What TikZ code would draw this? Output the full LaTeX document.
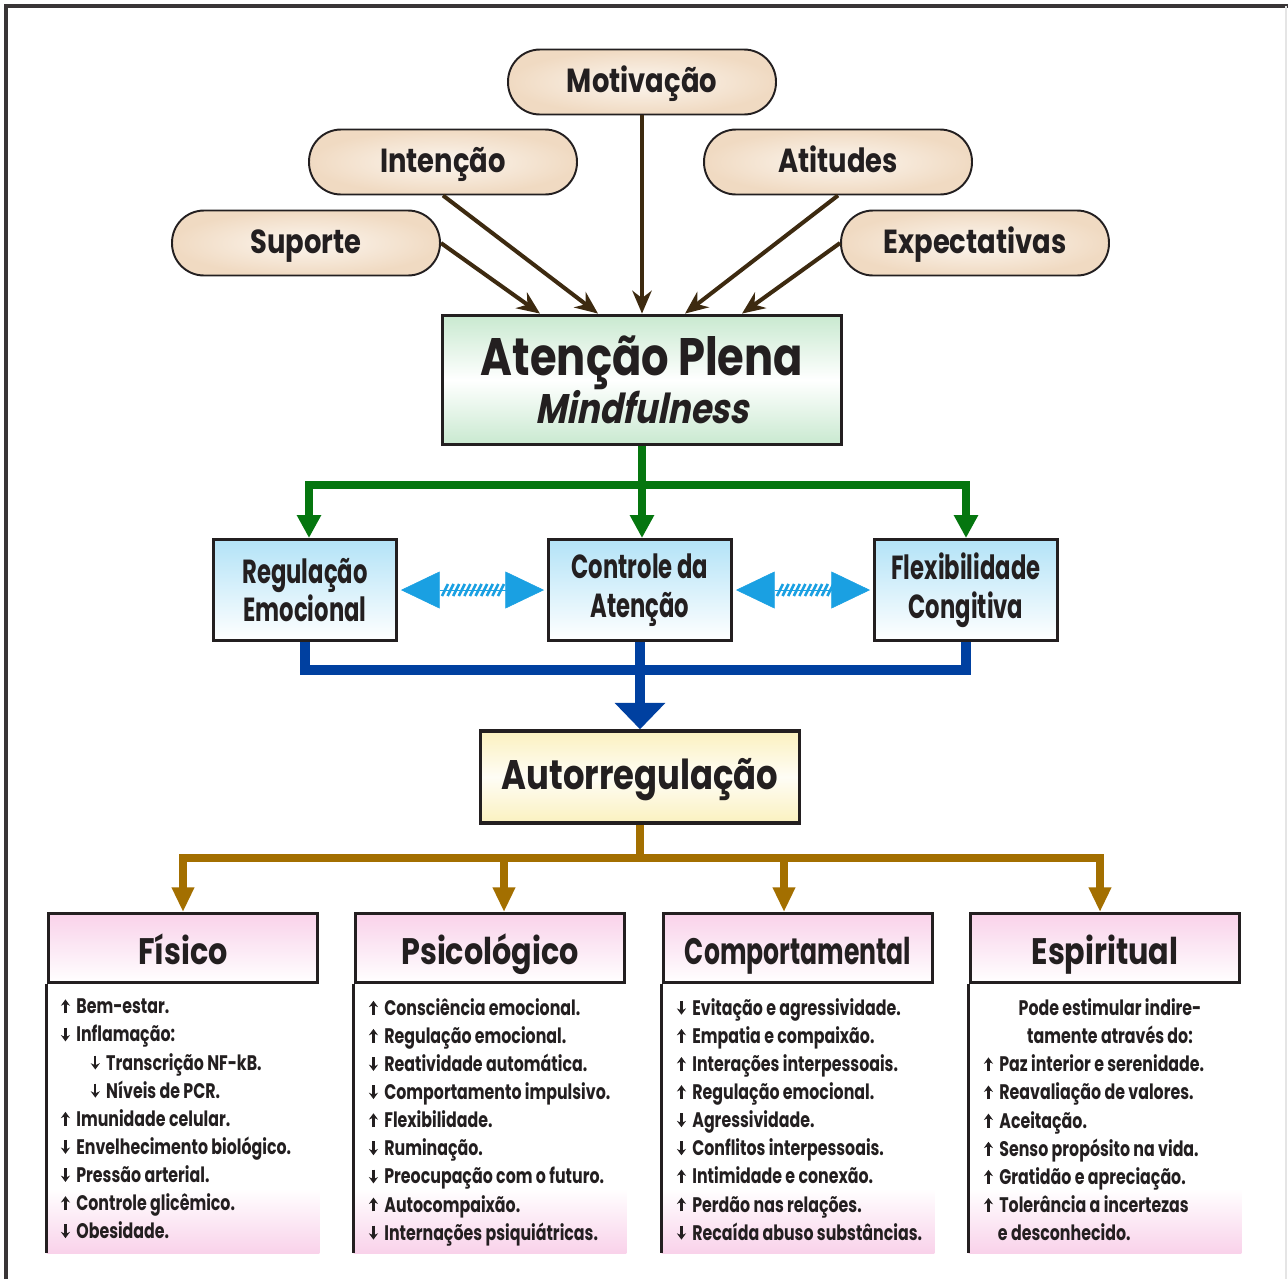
\documentclass[tikz,border=0pt]{standalone}
\usepackage{fontspec}
\setmainfont{Poppins}[FakeStretch=0.82]
\newfontfamily\narrowfont{Poppins}[FakeStretch=0.68]
\newfontfamily\listfont{Poppins}[FakeStretch=0.75]
\newfontfamily\slantfont{Poppins}[FakeStretch=0.82,FakeSlant=0.2]
\usetikzlibrary{arrows.meta,calc,positioning}
\definecolor{ink}{HTML}{231F20}
\definecolor{beige}{HTML}{F0DAC2}
\definecolor{beigel}{HTML}{FCF6EF}
\definecolor{mintg}{HTML}{C9E9D0}
\definecolor{skyl}{HTML}{B3E3F7}
\definecolor{creme}{HTML}{FBF1BF}
\definecolor{rosa}{HTML}{F9D2EA}
\definecolor{brownarr}{HTML}{3D2A10}
\definecolor{greenarr}{HTML}{05760F}
\definecolor{bluearr}{HTML}{0040A0}
\definecolor{goldarr}{HTML}{A36F00}
\definecolor{skyarr}{HTML}{1AA0E2}
\newcommand\up{\tikz[baseline=0pt]\draw[ink,line width=1.2pt,-{Stealth[length=3.6pt,width=5.2pt]}](0pt,0.3pt)--(0pt,8.2pt);\hspace{3.6pt}}
\newcommand\dn{\tikz[baseline=0pt]\draw[ink,line width=1.2pt,-{Stealth[length=3.6pt,width=5.2pt]}](0pt,8.2pt)--(0pt,0.3pt);\hspace{3.6pt}}
\begin{document}
\begin{tikzpicture}[x=0.02cm,y=-0.02cm,
    pill/.style={draw=ink,line width=1.1pt,rounded corners=0.64cm,minimum width=5.36cm,minimum height=1.3cm,inner color=beigel,outer color=beige,text=ink,text height=12.4pt,text depth=0pt,font=\bfseries\fontsize{19}{19}\selectfont},
    mainbox/.style={draw=ink,line width=2.2pt,minimum width=7.98cm,minimum height=2.58cm,top color=mintg,bottom color=mintg,middle color=white,align=center,text=ink,font=\bfseries\fontsize{30}{27}\selectfont},
    midbox/.style={draw=ink,line width=1.7pt,minimum width=3.66cm,minimum height=2.02cm,top color=skyl,bottom color=white,align=center,text=ink,font=\narrowfont\bfseries\fontsize{19}{22}\selectfont},
    autobox/.style={draw=ink,line width=2pt,minimum width=6.38cm,minimum height=1.84cm,top color=creme,bottom color=creme,middle color=white!85!creme,text=ink,text height=14.7pt,text depth=0pt,font=\bfseries\fontsize{23.5}{23.5}\selectfont},
    headbox/.style={draw=ink,line width=1.7pt,minimum width=5.4cm,minimum height=1.38cm,top color=rosa,bottom color=white,text=ink,text height=18.5pt,text depth=0pt,font=\bfseries\fontsize{21}{21}\selectfont},
    listtxt/.style={align=left,anchor=north west,inner sep=0pt,text=ink,font=\listfont\bfseries\fontsize{12}{16}\selectfont},
    brarrow/.style={draw=brownarr,line width=2.3pt,-{Stealth[length=13pt,width=11pt]}},
    grline/.style={draw=greenarr,line width=5pt},
    grarrow/.style={grline,-{Triangle[length=13pt,width=13pt]}},
    blline/.style={draw=bluearr,line width=5.5pt},
    blarrow/.style={blline,-{Triangle[length=15pt,width=28pt]}},
    gdline/.style={draw=goldarr,line width=4.5pt},
    gdarrow/.style={gdline,-{Triangle[length=14pt,width=12pt]}},
    dblarr/.style={draw=skyarr,line width=0.3pt,{Triangle[length=22pt,width=21pt]}-{Triangle[length=22pt,width=21pt]}},
    hatch/.style={draw=skyarr,line width=1.5pt}]
    \useasboundingbox (0,0) rectangle (1288,1279);
    \draw[ink!90,line width=1.8pt] (6,1279) -- (6,6) -- (1288,6);
    \draw[black!10,line width=1pt] (1286,6) -- (1286,1279);

    \node[pill](mot)at(642,82){Motivação};
    \node[pill](int)at(443,162){Intenção};
    \node[pill](ati)at(838,162){Atitudes};
    \node[pill](sup)at(306,243){Suporte};
    \node[pill](exp)at(975,243){Expectativas};
    \node[mainbox](ap)at(642,380){Atenção Plena\\{\slantfont\fontsize{23.5}{27}\selectfont Mindfulness}};
    \draw[brarrow](sup.east)--($(ap.north)+(-102,0)$);
    \draw[brarrow](int.south)--($(ap.north)+(-44,0)$);
    \draw[brarrow](mot.south)--(ap.north);
    \draw[brarrow](ati.south)--($(ap.north)+(43,0)$);
    \draw[brarrow](exp.west)--($(ap.north)+(100,0)$);

    \node[midbox](reg)at(305,590){Regulação\\Emocional};
    \node[midbox](ctl)at(640,590){Controle da\\Atenção};
    \node[midbox](flx)at(966,590){Flexibilidade\\Congitiva};
    \coordinate(gs)at(642,485);
    \draw[grline](ap.south)--(gs);
    \draw[grarrow](gs)-|($(reg.north)+(4,0)$);
    \draw[grarrow](gs)--($(ctl.north)+(2,0)$);
    \draw[grarrow](gs)-|(flx.north);
    \draw[dblarr]($(reg.east)+(3,0)$)--($(ctl.west)+(-3,0)$);
    \draw[dblarr]($(ctl.east)+(3,0)$)--($(flx.west)+(-3,0)$);
    \foreach \k in {0,...,10}{
        \draw[hatch]($(reg.east)+(44+5.6*\k,6)$)--++(6,-12);
        \draw[hatch]($(ctl.east)+(44+5.6*\k,6)$)--++(6,-12);
    }

    \node[autobox](aut)at(640,777){Autorregulação};
    \coordinate(bs)at(640,670);
    \draw[blline](reg.south)|-(bs);
    \draw[blline](flx.south)|-(bs);
    \draw[blarrow](ctl.south)--(aut.north);

    \node[headbox](fis)at(183,948){Físico};
    \node[headbox](psi)at(490,948){Psicológico};
    \node[headbox,font=\narrowfont\bfseries\fontsize{21}{21}\selectfont](com)at(798,948){Comportamental};
    \node[headbox](esp)at(1105,948){Espiritual};
    \coordinate(ds)at(640,858);
    \draw[gdline](aut.south)--(ds);
    \draw[gdarrow](ds)-|(fis.north);
    \draw[gdarrow](ds)-|($(psi.north)+(14,0)$);
    \draw[gdarrow](ds)-|($(com.north)+(-14,0)$);
    \draw[gdarrow](ds)-|($(esp.north)+(-5,0)$);
    \foreach \h in {fis,psi,com,esp}{
        \shade[top color=white,bottom color=rosa]($(\h.south west)+(0,205)$)rectangle($(\h.south east)+(0,269)$);
        \draw[ink,line width=1.7pt](\h.south west)--++(0,269);
    }

    \node[listtxt](lfis)at($(fis.south west)+(14,14)$){\up Bem-estar.\\\dn Inflamação:\\\hspace*{17pt}\dn Transcrição NF-kB.\\\hspace*{17pt}\dn Níveis de PCR.\\\up Imunidade celular.\\\dn Envelhecimento biológico.\\\dn Pressão arterial.\\\up Controle glicêmico.\\\dn Obesidade.};
    \node[listtxt](lpsi)at($(psi.south west)+(15,14)$){\up Consciência emocional.\\\up Regulação emocional.\\\dn Reatividade automática.\\\dn Comportamento impulsivo.\\\up Flexibilidade.\\\dn Ruminação.\\\dn Preocupação com o futuro.\\\up Autocompaixão.\\\dn Internações psiquiátricas.};
    \node[listtxt](lcom)at($(com.south west)+(15,14)$){\dn Evitação e agressividade.\\\up Empatia e compaixão.\\\up Interações interpessoais.\\\up Regulação emocional.\\\dn Agressividade.\\\dn Conflitos interpessoais.\\\up Intimidade e conexão.\\\up Perdão nas relações.\\\dn Recaída abuso substâncias.};
    \node[listtxt,anchor=north,align=center](iesp)at($(esp.south)+(5,14)$){Pode estimular indire-\\tamente através do:};
    \node[listtxt](lesp)at($(esp.south west)+(15,70.6)$){\up Paz interior e serenidade.\\\up Reavaliação de valores.\\\up Aceitação.\\\up Senso propósito na vida.\\\up Gratidão e apreciação.\\\up Tolerância a incertezas\\\hspace*{8pt}e desconhecido.};
\end{tikzpicture}
\end{document}
